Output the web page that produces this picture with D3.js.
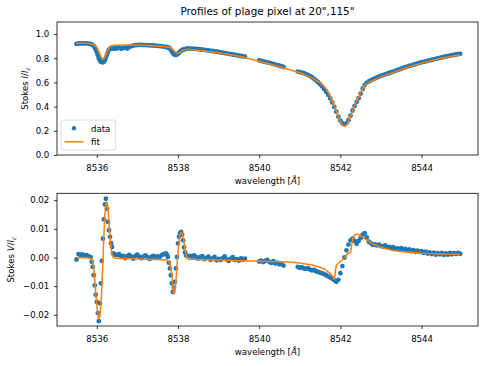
<!DOCTYPE html>
<html>
<head>
<meta charset="utf-8">
<script src="https://cdn.jsdelivr.net/npm/d3@7"></script>
<style>
  body { margin: 0; background: #fff; }
  text { font-family: "DejaVu Sans", sans-serif; }
</style>
</head>
<body>
<div id="chart"></div>
<script>
// observed wavelengths [A] (three scan segments, finer steps across the 8536 and 8538 lines)
const wavelength = [
  8535.50, 8535.55, 8535.60, 8535.65, 8535.70, 8535.75, 8535.80, 8535.85,
  8535.875, 8535.900, 8535.925, 8535.950, 8535.975, 8536.000, 8536.025, 8536.050,
  8536.075, 8536.100, 8536.125, 8536.150, 8536.175, 8536.200, 8536.225, 8536.250,
  8536.275, 8536.300, 8536.325, 8536.350, 8536.375, 8536.400, 8536.425, 8536.450,
  8536.50, 8536.55, 8536.60, 8536.65, 8536.70, 8536.75, 8536.80, 8536.85, 8536.90, 8536.95,
  8537.00, 8537.05, 8537.10, 8537.15, 8537.20, 8537.25, 8537.30, 8537.35, 8537.40, 8537.45,
  8537.50, 8537.55, 8537.60, 8537.65, 8537.70,
  8537.725, 8537.750, 8537.775, 8537.800, 8537.825, 8537.850, 8537.875, 8537.900,
  8537.925, 8537.950, 8537.975, 8538.000, 8538.025, 8538.050, 8538.075, 8538.100,
  8538.125, 8538.150, 8538.175, 8538.200, 8538.225, 8538.250,
  8538.30, 8538.35, 8538.40, 8538.45, 8538.50, 8538.55, 8538.60, 8538.65, 8538.70, 8538.75,
  8538.80, 8538.85, 8538.90, 8538.95, 8539.00, 8539.05, 8539.10, 8539.15, 8539.20, 8539.25,
  8539.30, 8539.35, 8539.40, 8539.45, 8539.50, 8539.55, 8539.60, 8539.65,
  8540.00, 8540.05, 8540.10, 8540.15, 8540.20, 8540.25, 8540.30, 8540.35, 8540.40, 8540.45,
  8540.50, 8540.55, 8540.60,
  8540.95, 8541.00, 8541.05, 8541.10, 8541.15, 8541.20, 8541.25, 8541.30, 8541.35, 8541.40,
  8541.45, 8541.50, 8541.55, 8541.60, 8541.65, 8541.70, 8541.75, 8541.80, 8541.85, 8541.90,
  8541.95, 8542.00, 8542.05, 8542.10, 8542.15, 8542.20, 8542.25, 8542.30, 8542.35, 8542.40,
  8542.45, 8542.50, 8542.55, 8542.60, 8542.65, 8542.70, 8542.75, 8542.80, 8542.85, 8542.90,
  8542.95, 8543.00, 8543.05, 8543.10, 8543.15, 8543.20, 8543.25, 8543.30, 8543.35, 8543.40,
  8543.45, 8543.50, 8543.55, 8543.60, 8543.65, 8543.70, 8543.75, 8543.80, 8543.85, 8543.90,
  8543.95, 8544.00, 8544.05, 8544.10, 8544.15, 8544.20, 8544.25, 8544.30, 8544.35, 8544.40,
  8544.45, 8544.50, 8544.55, 8544.60, 8544.65, 8544.70, 8544.75, 8544.80, 8544.85, 8544.90,
  8544.95
];

// Stokes I/Ic observed
const stokesI = [
  0.919, 0.922, 0.923, 0.922, 0.924, 0.923, 0.921, 0.917,
  0.914, 0.909, 0.901, 0.890, 0.873, 0.852, 0.826, 0.800,
  0.782, 0.772, 0.768, 0.767, 0.772, 0.785, 0.805, 0.830,
  0.852, 0.870, 0.880, 0.884, 0.880, 0.886, 0.883, 0.879,
  0.882, 0.889, 0.878, 0.884, 0.890, 0.881, 0.893, 0.900, 0.905, 0.908,
  0.909, 0.910, 0.910, 0.909, 0.909, 0.908, 0.907, 0.906, 0.905, 0.904,
  0.903, 0.901, 0.899, 0.897, 0.895,
  0.892, 0.890, 0.886, 0.880, 0.870, 0.856, 0.842, 0.833,
  0.829, 0.828, 0.832, 0.838, 0.846, 0.855, 0.862, 0.867,
  0.871, 0.874, 0.876, 0.878, 0.879, 0.880,
  0.880, 0.879, 0.878, 0.877, 0.875, 0.873, 0.871, 0.869, 0.867, 0.865,
  0.862, 0.860, 0.857, 0.855, 0.852, 0.849, 0.846, 0.843, 0.840, 0.837,
  0.834, 0.831, 0.828, 0.825, 0.822, 0.819, 0.816, 0.813,
  0.782, 0.778, 0.774, 0.770, 0.766, 0.762, 0.757, 0.752, 0.748, 0.743,
  0.738, 0.733, 0.728,
  0.690, 0.686, 0.681, 0.676, 0.669, 0.662, 0.653, 0.643, 0.630, 0.617,
  0.602, 0.586, 0.567, 0.546, 0.523, 0.497, 0.468, 0.435, 0.398, 0.358,
  0.318, 0.284, 0.262, 0.253, 0.262, 0.288, 0.325, 0.368, 0.405, 0.438,
  0.470, 0.508, 0.548, 0.578, 0.597, 0.608, 0.617, 0.625, 0.633, 0.640,
  0.647, 0.654, 0.660, 0.666, 0.672, 0.678, 0.684, 0.690, 0.696, 0.702,
  0.708, 0.714, 0.720, 0.726, 0.731, 0.737, 0.742, 0.747, 0.752, 0.757,
  0.762, 0.767, 0.771, 0.775, 0.779, 0.783, 0.787, 0.791, 0.795, 0.799,
  0.803, 0.807, 0.811, 0.815, 0.818, 0.822, 0.825, 0.828, 0.831, 0.834,
  0.837
];

// Stokes V/Ic observed
const stokesV = [
  -0.0007, 0.0012, 0.0009, 0.0011, 0.0006, 0.0008, 0.0004, 0.0001,
  -0.0015, -0.0033, -0.0062, -0.0097, -0.0130, -0.0155, -0.0194, -0.0222,
  -0.0160, -0.0090, -0.0012, 0.0066, 0.0133, 0.0185, 0.0205, 0.0170,
  0.0124, 0.0095, 0.0072, 0.0050, 0.0037, 0.0014, 0.0012, 0.0010,
  0.0008, 0.0012, 0.0004, 0.0006, -0.0002, 0.0005, 0.0009, 0.0003, -0.0004, 0.0006,
  0.0010, 0.0002, -0.0003, 0.0004, 0.0007, 0.0001, -0.0005, 0.0003, 0.0006, 0.0000,
  0.0004, 0.0002, 0.0008, 0.0012, 0.0014,
  0.0010, 0.0002, -0.0018, -0.0038, -0.0062, -0.0090, -0.0120, -0.0105,
  -0.0085, -0.0038, 0.0002, 0.0049, 0.0072, 0.0084, 0.0089, 0.0080,
  0.0060, 0.0035, 0.0018, 0.0008, 0.0005, 0.0004,
  0.0006, 0.0003, 0.0007, 0.0001, -0.0004, 0.0002, 0.0005, -0.0006, -0.0001, 0.0003,
  -0.0008, -0.0003, 0.0002, -0.0010, -0.0005, -0.0009, -0.0002, 0.0004, -0.0007, -0.0012,
  -0.0004, 0.0001, -0.0009, -0.0006, -0.0011, -0.0003, -0.0008, -0.0004,
  -0.0014, -0.0011, -0.0016, -0.0012, -0.0008, -0.0015, -0.0019, -0.0013, -0.0021, -0.0018,
  -0.0024, -0.0022, -0.0028,
  -0.0033, -0.0036, -0.0034, -0.0038, -0.0040, -0.0037, -0.0042, -0.0045, -0.0043, -0.0048,
  -0.0050, -0.0053, -0.0055, -0.0058, -0.0062, -0.0066, -0.0070, -0.0074, -0.0079, -0.0085,
  -0.0078, -0.0055, -0.0030, 0.0000, 0.0025, 0.0045, 0.0060, 0.0066, 0.0058, 0.0048,
  0.0058, 0.0068, 0.0080, 0.0085, 0.0070, 0.0055, 0.0050, 0.0044, 0.0046, 0.0042,
  0.0045, 0.0040, 0.0038, 0.0042, 0.0036, 0.0037, 0.0033, 0.0036, 0.0030, 0.0032,
  0.0029, 0.0033, 0.0027, 0.0030, 0.0025, 0.0028, 0.0022, 0.0026, 0.0020, 0.0024,
  0.0019, 0.0022, 0.0016, 0.0020, 0.0014, 0.0018, 0.0012, 0.0017, 0.0010, 0.0015,
  0.0011, 0.0016, 0.0009, 0.0014, 0.0010, 0.0016, 0.0011, 0.0015, 0.0012, 0.0016,
  0.0013
];

// fitted profiles
const fitWavelengthI = [
  8535.50, 8535.70, 8535.85, 8535.95, 8536.00, 8536.05, 8536.10, 8536.15, 8536.20, 8536.25,
  8536.30, 8536.35, 8536.45, 8536.70, 8537.00, 8537.40, 8537.70, 8537.80, 8537.85, 8537.90,
  8537.95, 8538.00, 8538.05, 8538.10, 8538.15, 8538.25, 8538.50, 8539.00, 8539.50, 8540.00,
  8540.50, 8541.00, 8541.30, 8541.50, 8541.60, 8541.70, 8541.80, 8541.90, 8541.95, 8542.00,
  8542.05, 8542.10, 8542.15, 8542.20, 8542.25, 8542.30, 8542.35, 8542.40, 8542.45, 8542.50,
  8542.55, 8542.60, 8542.70, 8542.80, 8543.00, 8543.25, 8543.50, 8543.75, 8544.00, 8544.25,
  8544.50, 8544.75, 8544.95
];
const fitI = [
  0.925, 0.925, 0.921, 0.908, 0.890, 0.855, 0.812, 0.792, 0.808, 0.848,
  0.885, 0.902, 0.908, 0.910, 0.909, 0.904, 0.896, 0.890, 0.879, 0.862,
  0.847, 0.842, 0.849, 0.862, 0.870, 0.874, 0.867, 0.846, 0.816, 0.776,
  0.730, 0.680, 0.638, 0.598, 0.568, 0.520, 0.448, 0.365, 0.318, 0.276,
  0.246, 0.236, 0.248, 0.278, 0.318, 0.362, 0.405, 0.445, 0.482, 0.518,
  0.550, 0.574, 0.600, 0.617, 0.646, 0.677, 0.707, 0.735, 0.760, 0.781,
  0.800, 0.817, 0.830
];

const fitWavelengthV = [
  8535.50, 8535.80, 8535.875, 8535.900, 8535.925, 8535.950, 8535.975, 8536.000, 8536.025, 8536.050,
  8536.075, 8536.100, 8536.125, 8536.150, 8536.175, 8536.200, 8536.225, 8536.250, 8536.275, 8536.300,
  8536.325, 8536.350, 8536.375, 8536.400, 8536.450, 8537.00, 8537.50, 8537.75, 8537.800, 8537.825,
  8537.850, 8537.875, 8537.900, 8537.925, 8537.950, 8537.975, 8538.000, 8538.025, 8538.050, 8538.075,
  8538.100, 8538.125, 8538.150, 8538.175, 8538.200, 8538.225, 8538.26, 8538.50, 8539.00, 8539.50,
  8540.00, 8540.50, 8540.80, 8541.00, 8541.30, 8541.50, 8541.60, 8541.70, 8541.75, 8541.80,
  8541.85, 8541.875, 8541.90, 8541.95, 8542.00, 8542.05, 8542.10, 8542.15, 8542.20, 8542.25,
  8542.28, 8542.31, 8542.35, 8542.40, 8542.45, 8542.50, 8542.60, 8542.70, 8542.80, 8543.00,
  8543.30, 8543.60, 8544.00, 8544.50, 8544.95
];
const fitV = [
  0.0000, -0.0002, -0.0004, -0.0015, -0.0038, -0.0080, -0.0125, -0.0166, -0.0198, -0.0215,
  -0.0205, -0.0170, -0.0105, -0.0015, 0.0080, 0.0152, 0.0188, 0.0194, 0.0170, 0.0125,
  0.0072, 0.0035, 0.0012, 0.0002, -0.0003, -0.0005, -0.0007, -0.0009, -0.0020, -0.0035,
  -0.0060, -0.0100, -0.0128, -0.0118, -0.0080, -0.0030, 0.0020, 0.0058, 0.0080, 0.0088,
  0.0086, 0.0075, 0.0052, 0.0028, 0.0010, 0.0000, -0.0006, -0.0007, -0.0009, -0.0011,
  -0.0013, -0.0015, -0.0017, -0.0019, -0.0026, -0.0034, -0.0040, -0.0050, -0.0056, -0.0064,
  -0.0076, -0.0050, -0.0027, -0.0020, -0.0014, -0.0008, -0.0001, 0.0010, 0.0015, 0.0017,
  0.0043, 0.0065, 0.0079, 0.0082, 0.0080, 0.0075, 0.0066, 0.0056, 0.0047, 0.0036,
  0.0024, 0.0019, 0.0015, 0.0012, 0.0011
];

const xTicks = [8536, 8538, 8540, 8542, 8544];
const iTicks = [0.0, 0.2, 0.4, 0.6, 0.8, 1.0];
const vTicks = [-0.02, -0.01, 0.00, 0.01, 0.02];

const blue = "#1f77b4", orange = "#ff7f0e";
const fontSize = 8.6;

const svg = d3.select("#chart").append("svg")
  .attr("width", 485)
  .attr("height", 366);

svg.append("text")
  .attr("x", 267.5)
  .attr("y", 15)
  .attr("text-anchor", "middle")
  .attr("font-size", 10.4)
  .text("Profiles of plage pixel at 20\",115\"");

const x = d3.scaleLinear().domain([8535.02, 8545.39]).range([57, 478]);

function drawPanel(top, bottom, domain, ticks, fmt, obs, fitWl, fit, stokes, labelX) {
  const y = d3.scaleLinear().domain(domain).range([bottom, top]);
  const g = svg.append("g");

  // observed points
  g.append("g").selectAll("circle")
    .data(wavelength.map((w, i) => [w, obs[i]]))
    .join("circle")
    .attr("cx", d => x(d[0]))
    .attr("cy", d => y(d[1]))
    .attr("r", 2.4)
    .attr("fill", blue);

  // fit on top
  g.append("path")
    .datum(fitWl.map((w, i) => [w, fit[i]]))
    .attr("fill", "none")
    .attr("stroke", orange)
    .attr("stroke-width", 1.5)
    .attr("stroke-linejoin", "round")
    .attr("d", d3.line().x(d => x(d[0])).y(d => y(d[1])));

  const xAxis = g.append("g")
    .attr("transform", `translate(0,${bottom})`)
    .call(d3.axisBottom(x).tickValues(xTicks).tickFormat(d3.format("d")).tickSize(3).tickPadding(6.5));
  const yAxis = g.append("g")
    .attr("transform", "translate(57,0)")
    .call(d3.axisLeft(y).tickValues(ticks).tickFormat(fmt).tickSize(3).tickPadding(4.7));
  [xAxis, yAxis].forEach(a => {
    a.attr("font-family", "DejaVu Sans, sans-serif").attr("font-size", fontSize);
    a.select(".domain").remove();
    a.selectAll("line").attr("stroke-width", 0.8);
  });

  // frame
  g.append("rect")
    .attr("x", 57).attr("y", top)
    .attr("width", 421).attr("height", bottom - top)
    .attr("fill", "none")
    .attr("stroke", "#000")
    .attr("stroke-width", 0.8);

  // x label
  const xl = g.append("text")
    .attr("x", 267.5)
    .attr("y", bottom + 28.5)
    .attr("text-anchor", "middle")
    .attr("font-size", fontSize);
  xl.append("tspan").text("wavelength [");
  xl.append("tspan").attr("font-style", "italic").text("Å");
  xl.append("tspan").text("]");

  // y label
  const yl = g.append("text")
    .attr("transform", `translate(${labelX},${(top + bottom) / 2}) rotate(-90)`)
    .attr("text-anchor", "middle")
    .attr("font-size", fontSize);
  yl.append("tspan").text("Stokes ");
  yl.append("tspan").attr("font-style", "italic").text(stokes);
  yl.append("tspan").text("/");
  yl.append("tspan").attr("font-style", "italic").text("I");
  yl.append("tspan").attr("font-style", "italic").attr("font-size", fontSize * 0.7).attr("dy", 1.5).text("c");
}

drawPanel(22, 155, [0, 1.1], iTicks, d3.format(".1f"), stokesI, fitWavelengthI, fitI, "I", 28.3);
drawPanel(193.3, 326, [-0.0239, 0.0224], vTicks, d3.format(".2f"), stokesV, fitWavelengthV, fitV, "V", 14);

// legend
const legend = svg.append("g");
legend.append("rect")
  .attr("x", 61).attr("y", 120)
  .attr("width", 54.7).attr("height", 30)
  .attr("rx", 2)
  .attr("fill", "#fff").attr("fill-opacity", 0.8)
  .attr("stroke", "#d0d0d0").attr("stroke-width", 0.8);
legend.append("circle")
  .attr("cx", 74).attr("cy", 128.3).attr("r", 2.2)
  .attr("fill", blue);
legend.append("line")
  .attr("x1", 64.5).attr("x2", 83.5)
  .attr("y1", 141.8).attr("y2", 141.8)
  .attr("stroke", orange).attr("stroke-width", 1.5);
legend.append("text")
  .attr("x", 91).attr("y", 131.5)
  .attr("font-size", fontSize)
  .text("data");
legend.append("text")
  .attr("x", 91).attr("y", 145)
  .attr("font-size", fontSize)
  .text("fit");
</script>
</body>
</html>
